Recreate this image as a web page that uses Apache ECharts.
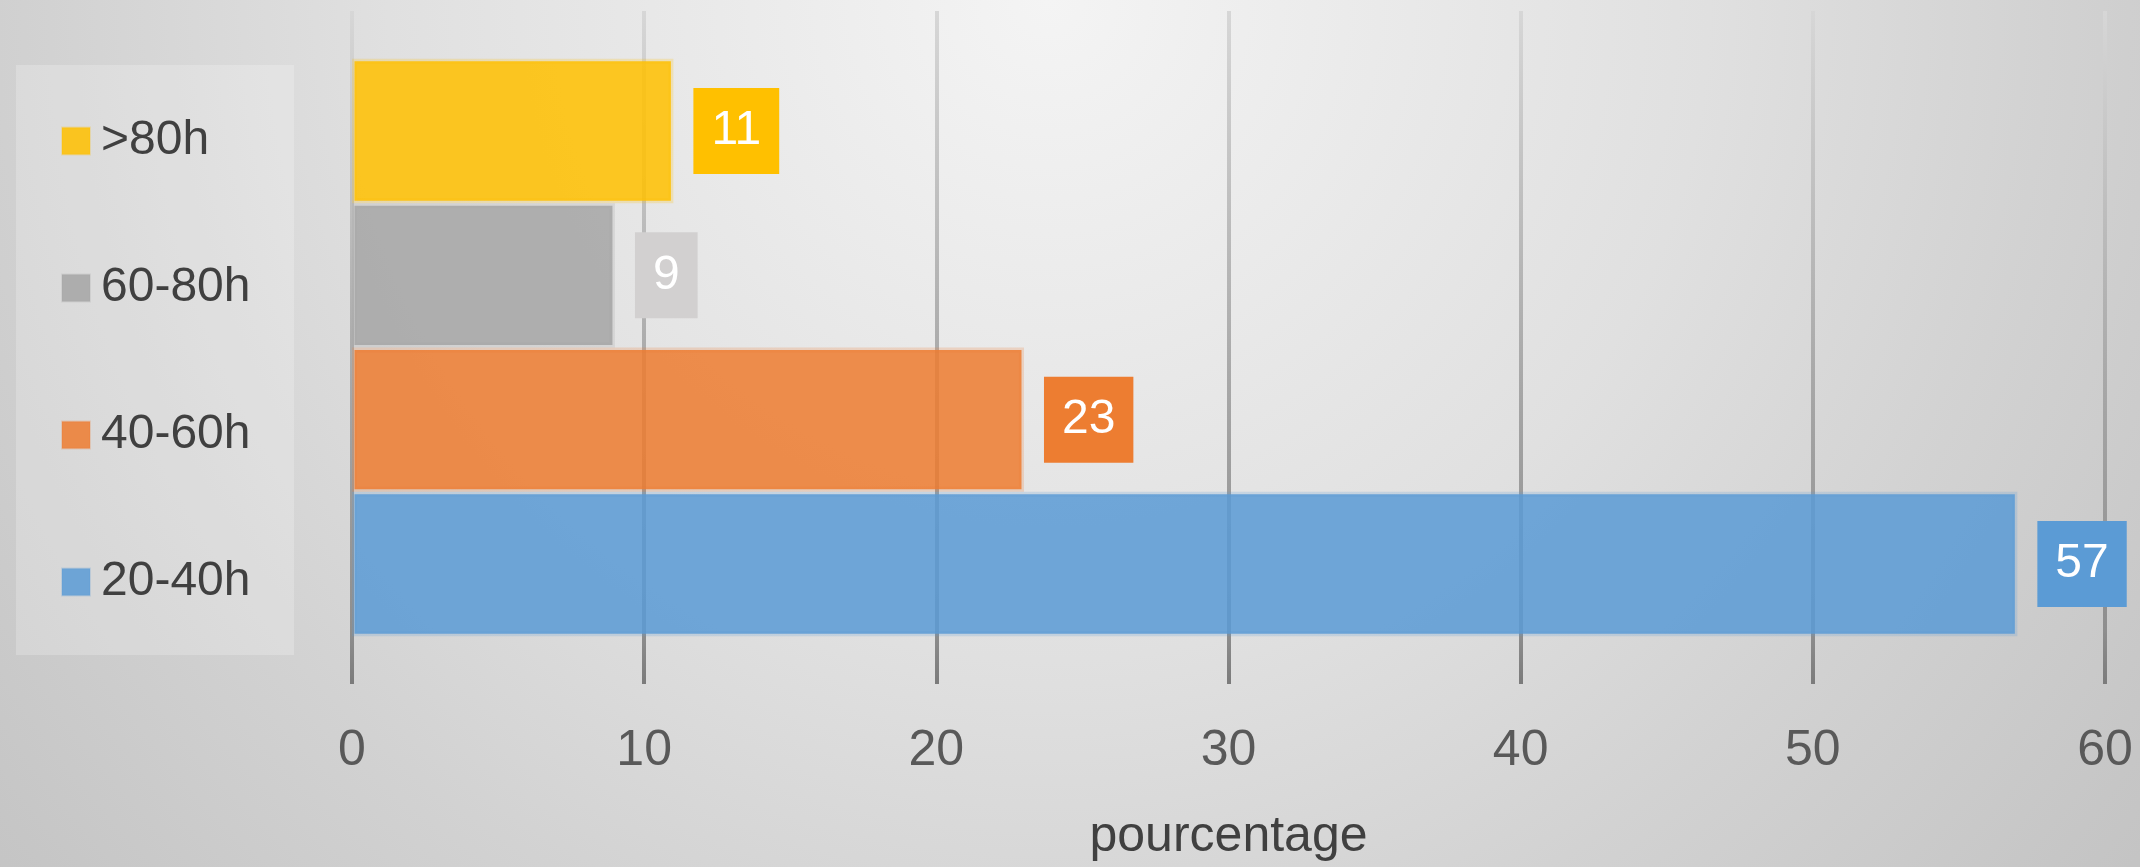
<!DOCTYPE html>
<html>
<head>
<meta charset="utf-8">
<script src="https://cdn.jsdelivr.net/npm/echarts@6/dist/echarts.min.js"></script>
<style>html,body{margin:0;padding:0;}#c{width:2140px;height:867px;}</style>
</head>
<body>
<div id="c"></div>
<script>
const categories = [''];
const seriesNames = ['>80h', '60-80h', '40-60h', '20-40h'];
const seriesValues = [[11], [9], [23], [57]];
const legendOrder = ['>80h', '60-80h', '40-60h', '20-40h'];
const xTicks = [0, 10, 20, 30, 40, 50, 60];
const axisName = 'pourcentage';

const fills = ['rgba(255,192,0,0.86)', 'rgba(165,165,165,0.86)', 'rgba(237,125,49,0.86)', 'rgba(91,155,213,0.86)'];
const borders = ['rgba(255,192,0,0.22)', 'rgba(165,165,165,0.22)', 'rgba(237,125,49,0.22)', 'rgba(91,155,213,0.22)'];
const labelBg = ['#FFC000', '#D2D0D0', '#ED7D31', '#5B9BD5'];
const FONT = "'Liberation Sans', Arial, sans-serif";

const chart = echarts.init(document.getElementById('c'), null, {renderer: 'canvas'});
chart.setOption({
  backgroundColor: {
    type: 'radial', x: 0.49, y: 0.0, r: 1.6,
    colorStops: [
      {offset: 0, color: '#F4F4F4'},
      {offset: 0.476, color: '#E0E0E0'},
      {offset: 0.72, color: '#D2D2D2'},
      {offset: 0.954, color: '#C6C6C6'},
      {offset: 1, color: '#C4C4C4'}
    ]
  },
  animation: false,
  textStyle: {fontFamily: FONT},
  graphic: [{
    type: 'rect', left: 16, top: 65, z: 0,
    shape: {width: 278, height: 590},
    style: {fill: 'rgba(255,255,255,0.22)'}
  }],
  legend: {
    data: legendOrder,
    orient: 'vertical',
    left: 56, top: 111,
    itemWidth: 28, itemHeight: 27,
    itemGap: 97,
    icon: 'rect',
    textStyle: {fontSize: 48, lineHeight: 50, color: '#404040', fontFamily: FONT, padding: [0, 0, 0, 6]}
  },
  grid: {left: 352, right: 35, top: 11, bottom: 181, containLabel: false},
  xAxis: {
    type: 'value', min: 0, max: 60, interval: 10,
    name: axisName, nameLocation: 'middle', nameGap: 128,
    nameTextStyle: {fontSize: 50, color: '#404040', fontFamily: FONT},
    axisLine: {show: false},
    axisTick: {show: false},
    axisLabel: {
      fontSize: 50, color: '#595959', margin: 42, fontFamily: FONT,
      formatter: v => (xTicks.indexOf(v) >= 0 ? String(v) : '')
    },
    splitLine: {
      show: true,
      lineStyle: {
        width: 4,
        color: {type: 'linear', x: 0, y: 0, x2: 0, y2: 686, global: true,
          colorStops: [{offset: 0, color: '#D8D8D8'}, {offset: 0.6, color: '#A4A4A4'}, {offset: 0.92, color: '#8E8E8E'}, {offset: 1, color: '#7A7A7A'}]}
      }
    }
  },
  yAxis: {
    type: 'category', data: categories,
    axisLine: {show: false}, axisTick: {show: false}, axisLabel: {show: false}, splitLine: {show: false}
  },
  series: seriesNames.map((n, i) => ({
    name: n, type: 'bar',
    data: seriesValues[i],
    barGap: '0%', barCategoryGap: '14.2%',
    itemStyle: {color: fills[i], borderColor: borders[i], borderWidth: 5},
    label: {
      show: true, position: 'right', distance: 20,
      color: '#FFFFFF', fontSize: 48, lineHeight: 50, fontFamily: FONT,
      backgroundColor: labelBg[i], padding: [18, 18, 18, 18]
    }
  }))
});
</script>
</body>
</html>
